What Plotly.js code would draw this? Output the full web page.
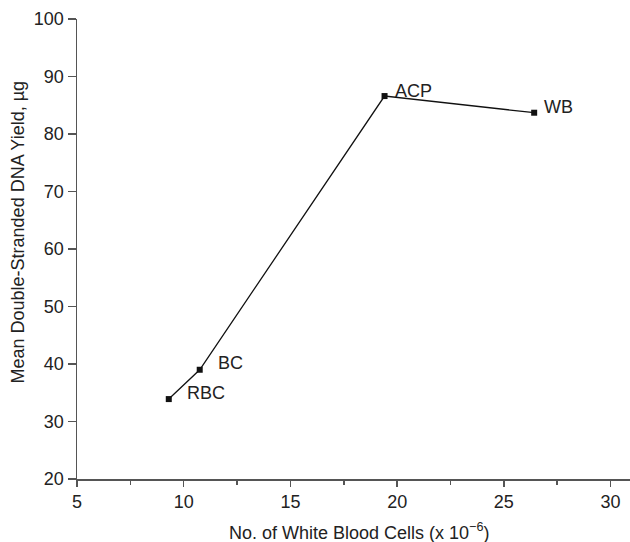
<!DOCTYPE html>
<html>
<head>
<meta charset="utf-8">
<script src="https://cdn.plot.ly/plotly-3.0.1.min.js"></script>
<style>html,body{margin:0;padding:0;background:#fff;}</style>
</head>
<body>
<div id="chart" style="width:630px;height:542px;"></div>
<script>
const sampleLabels = ["RBC", "BC", "ACP", "WB"];
const wbcCounts = [9.3, 10.75, 19.41, 26.42];
const dnaYield = [33.9, 39.0, 86.6, 83.7];
const labelShiftX = [16, 16, 8, 8];
const labelShiftY = [6, 7, 5, 6];
const xTitle = "No. of White Blood Cells (x 10<sup>−6</sup>)";
const yTitle = "Mean Double-Stranded DNA Yield, µg";

const font = "Liberation Sans, Arial, sans-serif";

const trace = {
  x: wbcCounts,
  y: dnaYield,
  mode: "lines+markers",
  line: {color: "#111", width: 1.3},
  marker: {symbol: "square", size: 6, color: "#111"},
  hoverinfo: "skip",
  cliponaxis: false
};

const annotations = sampleLabels.map((t, i) => ({
  x: wbcCounts[i], y: dnaYield[i], text: t,
  xref: "x", yref: "y", showarrow: false,
  xanchor: "left", yanchor: "middle",
  xshift: labelShiftX[i], yshift: labelShiftY[i],
  font: {family: font, size: 18, color: "#222"}
}));
annotations.push({
  x: 0.51, y: -0.115, xref: "paper", yref: "paper", text: xTitle,
  showarrow: false, xanchor: "center", yanchor: "middle",
  font: {family: font, size: 18, color: "#222"}
});
annotations.push({
  x: -0.1076, y: 0.537, xref: "paper", yref: "paper", text: yTitle,
  showarrow: false, xanchor: "center", yanchor: "middle", textangle: -90,
  font: {family: font, size: 18, color: "#222"}
});

const layout = {
  width: 630, height: 542,
  margin: {l: 77, r: 0, t: 19, b: 63},
  paper_bgcolor: "#fff", plot_bgcolor: "#fff",
  showlegend: false,
  font: {family: font, size: 18, color: "#222"},
  xaxis: {
    range: [5, 30.91], tickvals: [5, 10, 15, 20, 25, 30],
    ticks: "outside", ticklen: 6, tickcolor: "#555", tickwidth: 1.5,
    minor: {tickvals: [7.5, 12.5, 17.5, 22.5, 27.5], ticks: "outside", ticklen: 4, tickcolor: "#555", tickwidth: 1.5},
    showline: true, linecolor: "#555", linewidth: 1.5, showgrid: false, zeroline: false,
    tickfont: {size: 18, color: "#222"}
  },
  yaxis: {
    range: [20, 100], tickvals: [20, 30, 40, 50, 60, 70, 80, 90, 100],
    ticks: "outside", ticklen: 8, tickcolor: "#555", tickwidth: 1.5,
    showline: true, linecolor: "#555", linewidth: 1.5, showgrid: false, zeroline: false,
    tickfont: {size: 18, color: "#222"}
  },
  annotations: annotations
};

Plotly.newPlot("chart", [trace], layout, {displayModeBar: false, staticPlot: true});
</script>
</body>
</html>
